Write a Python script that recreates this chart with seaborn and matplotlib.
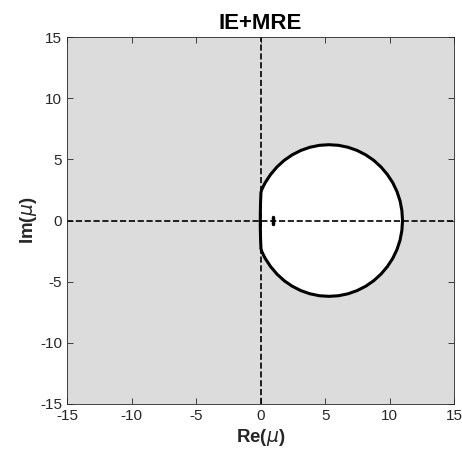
import numpy as np
import pandas as pd
import seaborn as sns
import matplotlib.pyplot as plt

# boundary of the stability region, counter-clockwise from the right
re_mu = [11.0, 10.95, 10.81, 10.57, 10.24, 9.82, 9.33, 8.77, 8.15, 7.48, 6.78, 6.04, 5.3,
         4.56, 3.82, 3.12, 2.45, 1.83, 1.27, 0.78, 0.36, 0.22, 0.09, 0.03, 0.0, -0.02, -0.02,
         -0.02, 0.0, 0.03, 0.09, 0.22, 0.36, 0.78, 1.27, 1.83, 2.45, 3.12, 3.82, 4.56, 5.3,
         6.04, 6.78, 7.48, 8.15, 8.77, 9.33, 9.82, 10.24, 10.57, 10.81, 10.95, 11.0]
im_mu = [0.0, 0.81, 1.60, 2.37, 3.10, 3.77, 4.38, 4.92, 5.37, 5.73, 5.99, 6.15, 6.2,
         6.15, 5.99, 5.73, 5.37, 4.92, 4.38, 3.77, 3.10, 2.81, 2.52, 2.3, 1.5, 0.5, 0.0,
         -0.5, -1.5, -2.3, -2.52, -2.81, -3.10, -3.77, -4.38, -4.92, -5.37, -5.73, -5.99,
         -6.15, -6.2, -6.15, -5.99, -5.73, -5.37, -4.92, -4.38, -3.77, -3.10, -2.37, -1.60,
         -0.81, 0.0]

# small isolated piece near mu = 1
re_small = [1.0, 1.0]
im_small = [-0.3, 0.3]

lim = [-15, 15]
ticks = [-15, -10, -5, 0, 5, 10, 15]

sns.set_style('ticks')
plt.rcParams['font.family'] = ['Liberation Sans', 'DejaVu Sans']
plt.rcParams['mathtext.fontset'] = 'dejavusans'
plt.rcParams['axes.unicode_minus'] = False

fig = plt.figure(figsize=(4.62, 4.58), dpi=100)
ax = fig.add_axes([0.145, 0.118, 0.838, 0.801])
ax.set_facecolor('#dcdcdc')

ax.fill(re_mu, im_mu, color='white', zorder=1)
df = pd.DataFrame({'Re': re_mu, 'Im': im_mu})
sns.lineplot(data=df, x='Re', y='Im', sort=False, estimator=None, color='black',
             lw=2.2, ax=ax, zorder=3)
ax.plot(re_small, im_small, color='black', lw=2.5, zorder=3)

ax.axhline(0, ls='--', color='black', lw=1.2, zorder=2)
ax.axvline(0, ls='--', color='black', lw=1.2, zorder=2)

ax.set_xlim(lim)
ax.set_ylim(lim)
ax.set_xticks(ticks)
ax.set_yticks(ticks)
ax.tick_params(direction='in', length=4, top=True, right=True, labelsize=11,
               color='#262626', labelcolor='#262626', width=0.6)
for s in ax.spines.values():
    s.set_color('#262626')
    s.set_linewidth(0.6)

ax.set_xlabel(r'Re($\mu$)', fontsize=13.5, fontweight='bold', labelpad=3, color='#262626')
ax.set_ylabel(r'Im($\mu$)', fontsize=13.5, fontweight='bold', labelpad=1, color='#262626')
ax.set_title('IE+MRE', fontsize=16, fontweight='bold', pad=6, color='black')

fig.savefig('out.png', dpi=100)
